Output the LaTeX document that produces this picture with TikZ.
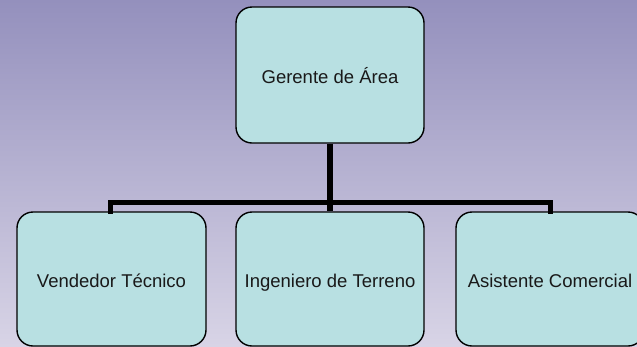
\documentclass[tikz,border=0pt]{standalone}
\usepackage{fontspec}
\setmainfont{Liberation Sans}
\begin{document}
\begin{tikzpicture}[x=1pt,y=-1pt,
  orgbox/.style={draw=black, line width=1.4pt, fill=boxfill, rounded corners=16pt,
    minimum width=188pt, inner sep=0pt, text=black!90,
    text height=17pt, text depth=0pt,
    font=\fontsize{18.5}{22}\selectfont},
  link/.style={line width=5.5pt, draw=black}]
\definecolor{bgtop}{HTML}{9490BD}
\definecolor{bgbot}{HTML}{D8D4E6}
\definecolor{boxfill}{HTML}{B8E0E2}
\useasboundingbox (0,0) rectangle (637,346);
\clip (0,0) rectangle (637,346);
\shade[top color=bgtop, bottom color=bgbot] (0,0) rectangle (637,346);
\node[orgbox, minimum height=136pt] (top) at (330,75) {Gerente de Área};
\node[orgbox, minimum width=189pt, minimum height=134pt] (b1) at (111.5,279) {Vendedor Técnico};
\node[orgbox, minimum height=134pt] (b2) at (330,279) {Ingeniero de Terreno};
\node[orgbox, minimum height=134pt] (b3) at (550,279) {Asistente Comercial};
\coordinate (hl) at (110.5,202.5);
\coordinate (hr) at (550.5,202.5);
\draw[link] (top.south) -- (b2.north);
\draw[link, line cap=rect] (b1.north -| hl) -- (hl) -- (hr) -- (b3.north -| hr);
\end{tikzpicture}
\end{document}
